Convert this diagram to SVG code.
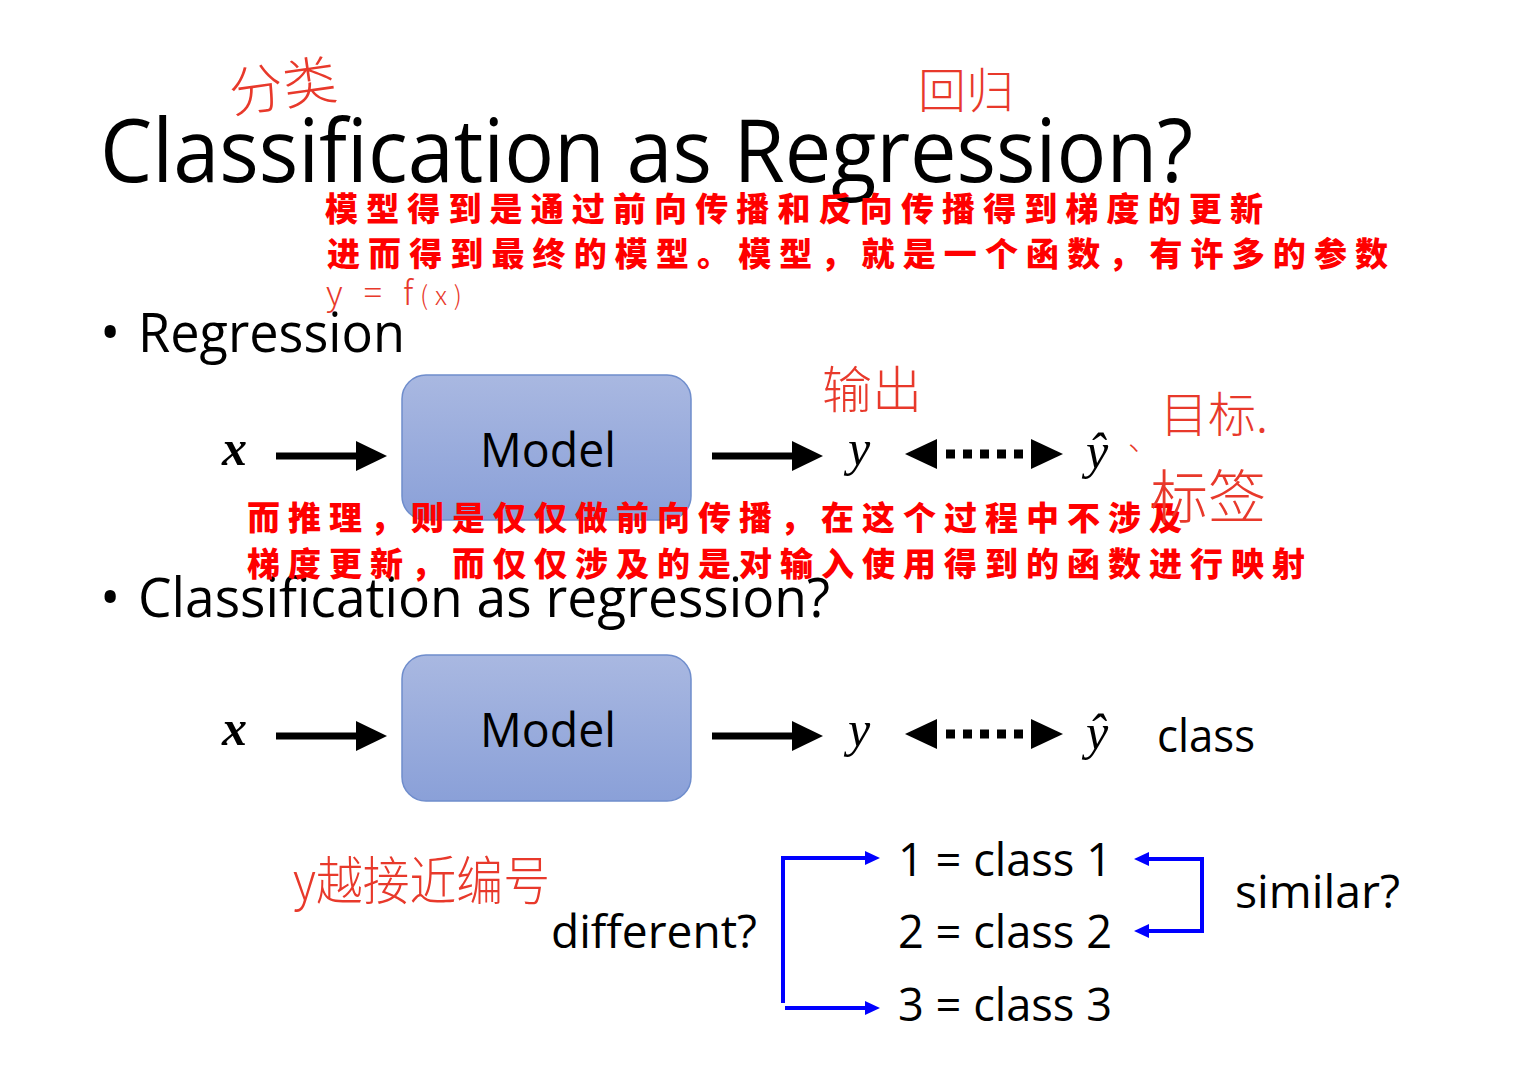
<svg xmlns="http://www.w3.org/2000/svg" width="1513" height="1074" viewBox="0 0 1513 1074">
<style>
.sans{font-family:"Open Sans","Liberation Sans",sans-serif;fill:#000}
.math{font-family:"Liberation Serif","DejaVu Serif",serif;font-style:italic;fill:#000}
.red{font-family:"Noto Sans CJK SC","Noto Sans",sans-serif;font-weight:900;fill:#ff0000}
.hand{font-family:"Noto Sans CJK SC","Noto Sans",sans-serif;font-weight:300;fill:#e8392b}
.blk{stroke:#000;stroke-width:7;fill:none}
.blue{stroke:#0000ff;stroke-width:4;fill:none}
</style>
<defs>
<linearGradient id="g" x1="0" y1="0" x2="0" y2="1">
<stop offset="0" stop-color="#a9b8e1"/>
<stop offset="1" stop-color="#8aa0d8"/>
</linearGradient>
</defs>
<rect width="1513" height="1074" fill="#fff"/>

<text class="sans" x="100" y="182" font-size="88" textLength="1093" lengthAdjust="spacingAndGlyphs">Classification as Regression?</text>
<text class="sans" x="100" y="352" font-size="54">•</text>
<text class="sans" x="138" y="352" font-size="55" textLength="267" lengthAdjust="spacingAndGlyphs">Regression</text>
<text class="sans" x="100" y="617" font-size="54">•</text>
<text class="sans" x="138" y="617" font-size="55" textLength="692" lengthAdjust="spacingAndGlyphs">Classification as regression?</text>

<g id="model1">
<rect x="402" y="375" width="289" height="145" rx="24" fill="url(#g)" stroke="#6f8dcc" stroke-width="1.5"/>
<text class="sans" x="548" y="467" font-size="48" text-anchor="middle" textLength="136" lengthAdjust="spacingAndGlyphs">Model</text>
</g>
<g id="model2">
<rect x="402" y="655" width="289" height="146" rx="24" fill="url(#g)" stroke="#6f8dcc" stroke-width="1.5"/>
<text class="sans" x="548" y="747" font-size="48" text-anchor="middle" textLength="136" lengthAdjust="spacingAndGlyphs">Model</text>
</g>

<g id="labels">
<text class="math" x="222" y="465" font-size="50" font-weight="bold">x</text>
<text class="math" x="848" y="465" font-size="50">y</text>
<text class="math" x="1086" y="468" font-size="50">ŷ</text>
<text class="math" x="222" y="745" font-size="50" font-weight="bold">x</text>
<text class="math" x="848" y="746" font-size="50">y</text>
<text class="math" x="1086" y="749" font-size="50">ŷ</text>
<text class="sans" x="1157" y="752" font-size="45" textLength="98" lengthAdjust="spacingAndGlyphs">class</text>
<text class="sans" x="551" y="948" font-size="46" textLength="206" lengthAdjust="spacingAndGlyphs">different?</text>
<text class="sans" x="898" y="876" font-size="46" textLength="214" lengthAdjust="spacingAndGlyphs">1 = class 1</text>
<text class="sans" x="898" y="948" font-size="46" textLength="214" lengthAdjust="spacingAndGlyphs">2 = class 2</text>
<text class="sans" x="898" y="1021" font-size="46" textLength="214" lengthAdjust="spacingAndGlyphs">3 = class 3</text>
<text class="sans" x="1235" y="908" font-size="46" textLength="165" lengthAdjust="spacingAndGlyphs">similar?</text>
</g>

<g id="connectors">
<line class="blk" x1="276" y1="456" x2="358" y2="456"/>
<path d="M356,441 L387,456 L356,471 Z"/>
<line class="blk" x1="712" y1="456" x2="794" y2="456"/>
<path d="M792,441 L823,456 L792,471 Z"/>
<path d="M905,454 L937,439 L937,469 Z"/>
<line x1="946" y1="454" x2="1032" y2="454" stroke="#000" stroke-width="9" stroke-dasharray="9 8"/>
<path d="M1031,439 L1063,454 L1031,469 Z"/>

<line class="blk" x1="276" y1="736" x2="358" y2="736"/>
<path d="M356,721 L387,736 L356,751 Z"/>
<line class="blk" x1="712" y1="736" x2="794" y2="736"/>
<path d="M792,721 L823,736 L792,751 Z"/>
<path d="M905,734 L937,719 L937,749 Z"/>
<line x1="946" y1="734" x2="1032" y2="734" stroke="#000" stroke-width="9" stroke-dasharray="9 8"/>
<path d="M1031,719 L1063,734 L1031,749 Z"/>

<path class="blue" d="M783,1003 L783,858 L866,858"/>
<path d="M865,851 L880,858 L865,865 Z" fill="#0000ff"/>
<path class="blue" d="M785,1008 L866,1008"/>
<path d="M865,1001 L880,1008 L865,1015 Z" fill="#0000ff"/>
<path class="blue" d="M1148,859 L1202,859 L1202,931 L1148,931"/>
<path d="M1149,852 L1134,859 L1149,866 Z" fill="#0000ff"/>
<path d="M1149,924 L1134,931 L1149,938 Z" fill="#0000ff"/>
</g>

<g id="notes">
<text class="red" x="325" y="221" font-size="33" textLength="938" lengthAdjust="spacing">模型得到是通过前向传播和反向传播得到梯度的更新</text>
<text class="red" x="327" y="266" font-size="33" textLength="1061" lengthAdjust="spacing">进而得到最终的模型。模型，就是一个函数，有许多的参数</text>
<text class="hand" x="326" y="305" font-size="34" font-weight="400" textLength="136" lengthAdjust="spacing">y = f<tspan font-size="26">(x)</tspan></text>
<text class="red" x="247" y="530" font-size="33" textLength="935" lengthAdjust="spacing">而推理，则是仅仅做前向传播，在这个过程中不涉及</text>
<text class="red" x="247" y="576" font-size="33" textLength="1058" lengthAdjust="spacing">梯度更新，而仅仅涉及的是对输入使用得到的函数进行映射</text>
</g>

<g id="handwriting">
<text class="hand" x="232" y="113" font-size="54" transform="rotate(-8 232 113)">分类</text>
<text class="hand" x="918" y="108" font-size="48">回归</text>
<text class="hand" x="822" y="408" font-size="50">输出</text>
<text class="hand" x="1160" y="432" font-size="48">目标.</text>
<text class="hand" x="1128" y="450" font-size="30">、</text>
<text class="hand" x="1150" y="518" font-size="58">标签</text>
<text class="hand" x="293" y="900" font-size="52" textLength="257" lengthAdjust="spacingAndGlyphs">y越接近编号</text>
</g>
</svg>
